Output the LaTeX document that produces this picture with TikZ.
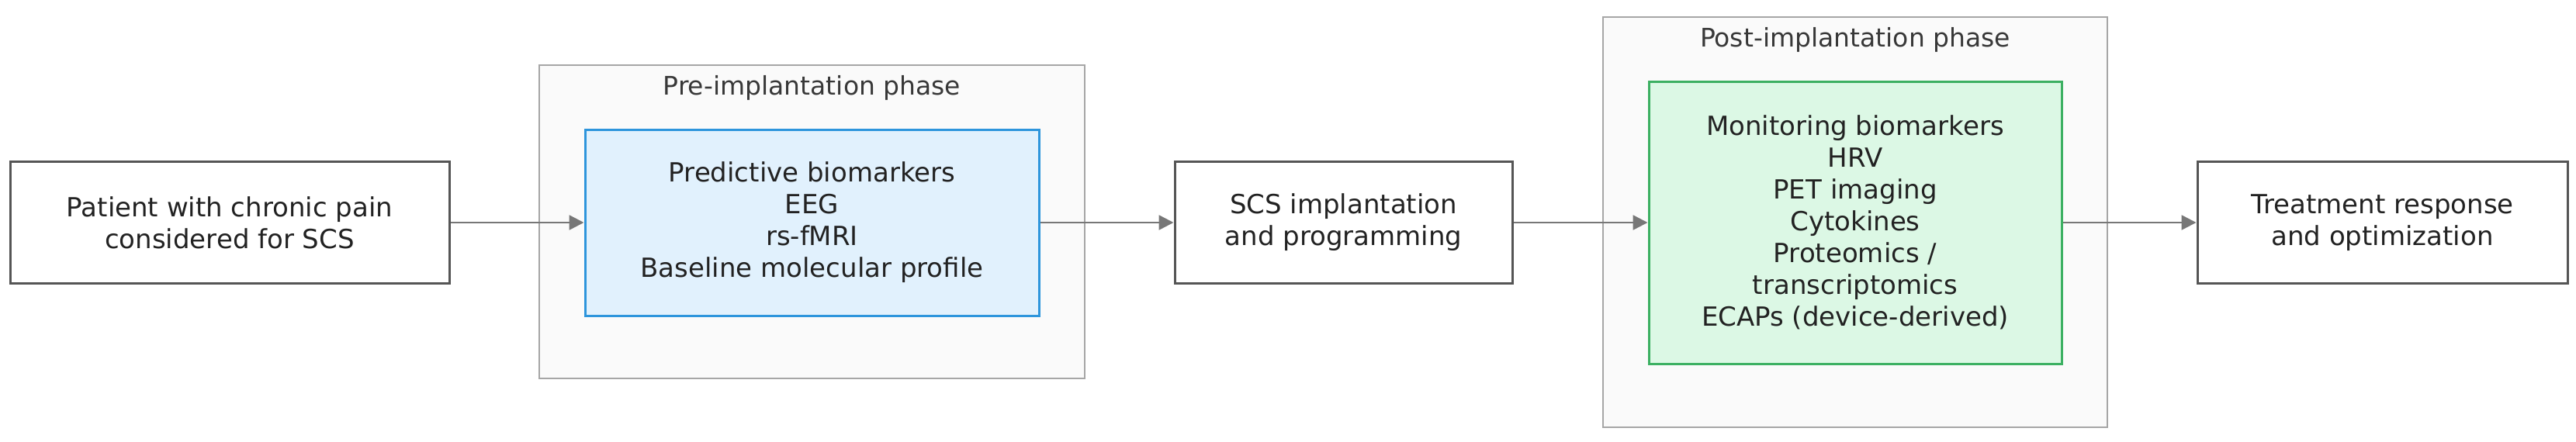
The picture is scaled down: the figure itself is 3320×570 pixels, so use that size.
\documentclass[tikz,border=0pt]{standalone}
\usepackage{fontspec}
\setmainfont{DejaVu Sans}
\usetikzlibrary{arrows.meta}
\definecolor{boxline}{HTML}{555555}
\definecolor{txt}{HTML}{222222}
\definecolor{clfill}{HTML}{FAFAFA}
\definecolor{clline}{HTML}{A6A6A6}
\definecolor{bluefill}{HTML}{E1F1FD}
\definecolor{blueline}{HTML}{2D95DC}
\definecolor{greenfill}{HTML}{DCF8E5}
\definecolor{greenline}{HTML}{3CB062}
\definecolor{arrowc}{HTML}{777777}
\tikzset{
  lbl/.style={font=\fontsize{34}{41}\selectfont, text=txt, align=center},
  plainbox/.style={lbl, draw=boxline, line width=3pt, fill=white, rectangle, inner sep=0pt},
  bluebox/.style={lbl, draw=blueline, line width=3pt, fill=bluefill, rectangle, inner sep=0pt},
  greenbox/.style={lbl, draw=greenline, line width=3pt, fill=greenfill, rectangle, inner sep=0pt},
  cluster/.style={draw=clline, line width=2.5pt, fill=clfill, rectangle, inner sep=0pt},
  cltitle/.style={font=\fontsize{33}{41}\selectfont, text=txt!90!white, anchor=base},
  flow/.style={draw=arrowc, line width=2.5pt, -{Triangle[length=19pt, width=19pt]}}
}
\begin{document}
\begin{tikzpicture}[x=1pt, y=-1pt]
\useasboundingbox (0,0) rectangle (3320,570);
% clusters
\node[cluster, minimum width=703pt, minimum height=404pt] (pre) at (1046.5,286) {};
\node[cluster, minimum width=650pt, minimum height=529pt] (post) at (2391,286.5) {};
\node[cltitle] (pretitle) at (1046.5,122) {Pre-implantation phase};
\node[cltitle] (posttitle) at (2391,60) {Post-implantation phase};
% nodes
\node[plainbox, minimum width=566pt, minimum height=157pt] (patient) at (296,287)
  {Patient with chronic pain\\considered for SCS};
\node[bluebox, minimum width=585pt, minimum height=240pt] (predict) at (1046.5,287)
  {Predictive biomarkers\\EEG\\rs-fMRI\\Baseline molecular profile};
\node[plainbox, minimum width=435pt, minimum height=157pt] (scs) at (1731.5,287)
  {SCS implantation\\and programming};
\node[greenbox, minimum width=532pt, minimum height=364pt] (monitor) at (2391,287)
  {Monitoring biomarkers\\HRV\\PET imaging\\Cytokines\\Proteomics /\\transcriptomics\\ECAPs (device-derived)};
\node[plainbox, minimum width=477pt, minimum height=157pt] (treat) at (3070.5,287)
  {Treatment response\\and optimization};
% connectors
\draw[flow] (patient.east) -- (predict.west);
\draw[flow] (predict.east) -- (scs.west);
\draw[flow] (scs.east) -- (monitor.west);
\draw[flow] (monitor.east) -- (treat.west);
\end{tikzpicture}
\end{document}
